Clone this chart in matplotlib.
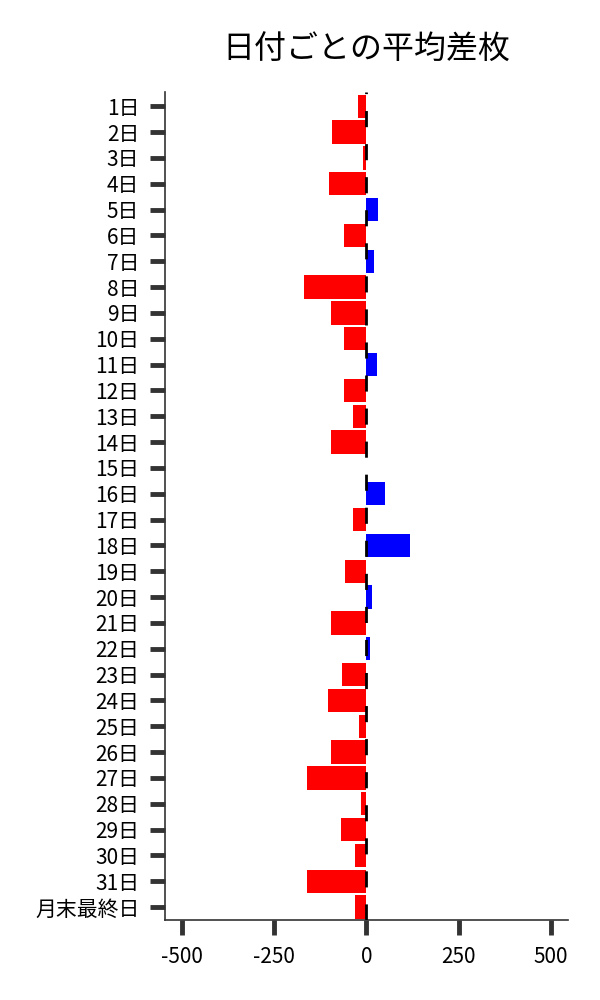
import numpy as np
from matplotlib import pyplot as plt

plt.rcParams['font.family'] = ['Noto Sans CJK JP', 'DejaVu Sans']

days = [f"{d}日" for d in range(1, 32)] + ["月末最終日"]
avg_diff = [-24, -92, -8, -100, 32, -62, 21, -168, -95, -62,
            29, -62, -35, -95, 0, 51, -35, 118, -57, 15,
            -95, 10, -65, -103, -19, -95, -162, -14, -68, -30,
            -162, -30]
xticks = [-500, -250, 0, 250, 500]

colors = ['blue' if v > 0 else 'red' for v in avg_diff]
y = np.arange(len(days))

fig, ax = plt.subplots(figsize=(6, 10), dpi=100)
fig.subplots_adjust(left=0.275, right=0.947, top=0.908, bottom=0.08)

ax.barh(y, avg_diff, height=0.9, color=colors)
ax.axvline(0, color='black', linewidth=2, linestyle=(0, (5.8, 6.1)), zorder=3)

ax.set_yticks(y)
ax.set_yticklabels(days)
ax.set_ylim(len(days) - 0.5, -0.55)
ax.set_xticks(xticks)
ax.set_xticklabels([str(t) for t in xticks])
ax.set_xlim(-545, 546)

ax.tick_params(axis='both', length=10.5, width=3.5, color='#333333',
               labelsize=15, pad=8)
for side in ['top', 'right']:
    ax.spines[side].set_visible(False)
for side in ['left', 'bottom']:
    ax.spines[side].set_color('#333333')
    ax.spines[side].set_linewidth(1.2)

ax.set_title("日付ごとの平均差枚", fontsize=23, pad=24)

fig.savefig("out.png")
